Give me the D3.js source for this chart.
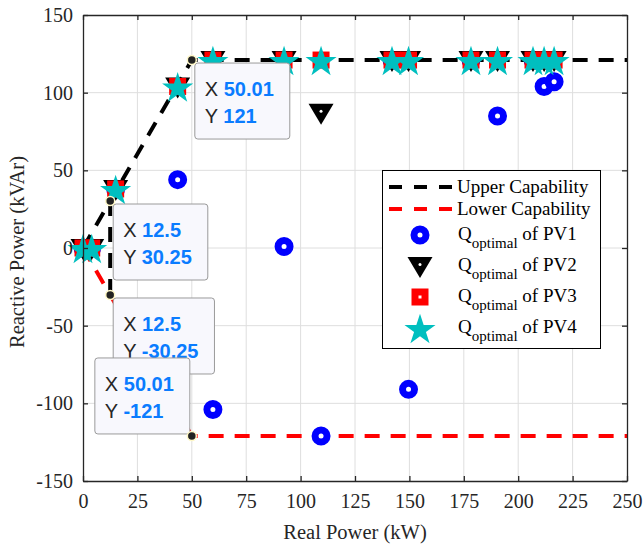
<!DOCTYPE html>
<html>
<head>
<meta charset="utf-8">
<script src="https://cdn.jsdelivr.net/npm/d3@7"></script>
<style>
  body { margin: 0; background: #fff; }
  svg { display: block; }
</style>
</head>
<body>
<div id="wrapper"></div>
<script>
// capability curve
const capP = [0, 12.5, 50.01, 250];
const upperQ = [0, 30.25, 121, 121];
const lowerQ = [0, -30.25, -121, -121];

// optimal reactive power per PV
const pvP = [0, 4, 15, 43.5, 59.7, 92.4, 109.4, 142, 149.6, 178.3, 190.5, 206.8, 211.9, 216.5];
const pv1Q = [0, 0, 38, 44, -104, 1, -121, 121, -91, 121, 85, 121, 104, 107];
const pv2Q = [0, 0, 38, 104, 121, 121, 87, 121, 121, 121, 121, 121, 121, 121];
const pv3Q = [0, 0, 38, 104, 121, 121, 121, 121, 121, 121, 121, 121, 121, 121];
const pv4Q = [0, 0, 38, 104, 121, 121, 121, 121, 121, 121, 121, 121, 121, 121];

const xTicks = [0, 25, 50, 75, 100, 125, 150, 175, 200, 225, 250];
const yTicks = [-150, -100, -50, 0, 50, 100, 150];

// data tips
const tipX = [50.01, 12.5, 12.5, 50.01];
const tipY = [121, 30.25, -30.25, -121];
const tipLabelX = ["50.01", "12.5", "12.5", "50.01"];
const tipLabelY = ["121", "30.25", "-30.25", "-121"];
const tipSide = ["se", "se", "se", "nw"];

const legendLabels = ["Upper Capability", "Lower Capability", "PV1", "PV2", "PV3", "PV4"];

let wSvg = 644;
let hSvg = 546;
let pLeft = 83, pRight = 627, pTop = 15, pBottom = 481;

let svg = d3.select("#wrapper").append("svg")
    .attr("width", wSvg)
    .attr("height", hSvg);

svg.append("rect").attr("width", wSvg).attr("height", hSvg).attr("fill", "#fff");

let xScale = d3.scaleLinear().domain([0, 250]).range([pLeft, pRight]);
let yScale = d3.scaleLinear().domain([-150, 150]).range([pBottom, pTop]);

const serif = "'Liberation Serif', 'Times New Roman', serif";
const sans = "'Liberation Sans', Arial, sans-serif";
const axisColor = "#262626";

// grid
let grid = svg.append("g");
grid.selectAll(".gx").data(xTicks.slice(1, -1)).enter().append("line")
    .attr("x1", d => xScale(d)).attr("x2", d => xScale(d))
    .attr("y1", pTop).attr("y2", pBottom)
    .attr("stroke", "#dedede").attr("stroke-width", 1);
grid.selectAll(".gy").data(yTicks.slice(1, -1)).enter().append("line")
    .attr("y1", d => yScale(d)).attr("y2", d => yScale(d))
    .attr("x1", pLeft).attr("x2", pRight)
    .attr("stroke", "#dedede").attr("stroke-width", 1);

// capability lines
let line = d3.line().x(d => xScale(d[0])).y(d => yScale(d[1]));
let upperPts = capP.map((p, i) => [p, upperQ[i]]);
let lowerPts = capP.map((p, i) => [p, lowerQ[i]]);

svg.append("path").datum(lowerPts).attr("d", line)
    .attr("fill", "none").attr("stroke", "#ff0000").attr("stroke-width", 4)
    .attr("stroke-dasharray", "15 11");
svg.append("path").datum(upperPts).attr("d", line)
    .attr("fill", "none").attr("stroke", "#000").attr("stroke-width", 4)
    .attr("stroke-dasharray", "15 11");
svg.append("path").datum([[capP[1], upperQ[1]], [capP[1], lowerQ[1]]]).attr("d", line)
    .attr("fill", "none").attr("stroke", "#000").attr("stroke-width", 4)
    .attr("stroke-dasharray", "15 11");

// marker drawers
function drawCircle(g, x, y) {
    g.append("circle").attr("cx", x).attr("cy", y).attr("r", 6)
        .attr("fill", "#fff").attr("stroke", "#0000ff").attr("stroke-width", 7);
}
function drawTriangle(g, x, y) {
    g.append("path")
        .attr("d", `M${x - 12.5},${y - 9}L${x + 12.5},${y - 9}L${x},${y + 12}Z`)
        .attr("fill", "#000");
    g.append("circle").attr("cx", x).attr("cy", y - 1.5).attr("r", 1.5).attr("fill", "#fff");
}
function drawSquare(g, x, y) {
    g.append("rect").attr("x", x - 8.5).attr("y", y - 8.5).attr("width", 17).attr("height", 17)
        .attr("fill", "#ff0000");
    g.append("rect").attr("x", x - 1.5).attr("y", y - 1.5).attr("width", 3).attr("height", 3)
        .attr("fill", "#fff");
}
let starPath = d3.symbol().type(d3.symbolStar).size(300)();
function drawStar(g, x, y) {
    g.append("path").attr("d", starPath)
        .attr("transform", `translate(${x},${y + 2})`)
        .attr("fill", "#00bfbf");
}

let series = [
    { q: pv1Q, draw: drawCircle },
    { q: pv2Q, draw: drawTriangle },
    { q: pv3Q, draw: drawSquare },
    { q: pv4Q, draw: drawStar }
];

series.forEach(s => {
    let g = svg.append("g");
    s.q.forEach((q, i) => s.draw(g, xScale(pvP[i]), yScale(q)));
});

// axes (box with inward ticks)
let axes = svg.append("g");
let plain = d => String(d);

let xAxis = axes.append("g").attr("transform", `translate(0,${pBottom})`)
    .call(d3.axisBottom(xScale).tickValues(xTicks).tickFormat(plain).tickSize(-5).tickPadding(13).tickSizeOuter(0));
let yAxis = axes.append("g").attr("transform", `translate(${pLeft},0)`)
    .call(d3.axisLeft(yScale).tickValues(yTicks).tickFormat(plain).tickSize(-5).tickPadding(10).tickSizeOuter(0));
let xTop = axes.append("g").attr("transform", `translate(0,${pTop})`)
    .call(d3.axisTop(xScale).tickValues(xTicks).tickSize(-5).tickFormat("").tickSizeOuter(0));
let yRight = axes.append("g").attr("transform", `translate(${pRight},0)`)
    .call(d3.axisRight(yScale).tickValues(yTicks).tickSize(-5).tickFormat("").tickSizeOuter(0));

[xAxis, yAxis, xTop, yRight].forEach(a => {
    a.attr("font-family", serif).attr("font-size", 20);
    a.select(".domain").attr("stroke", axisColor).attr("stroke-width", 1.3);
    a.selectAll(".tick line").attr("stroke", axisColor).attr("stroke-width", 1.3);
    a.selectAll("text").attr("fill", axisColor);
});

svg.append("text")
    .attr("x", (pLeft + pRight) / 2).attr("y", 539)
    .attr("text-anchor", "middle")
    .attr("font-family", serif).attr("font-size", 20.5).attr("fill", axisColor)
    .text("Real Power (kW)");

svg.append("text")
    .attr("transform", `translate(24,${(pTop + pBottom) / 2 + 4}) rotate(-90)`)
    .attr("text-anchor", "middle")
    .attr("font-family", serif).attr("font-size", 20.5).attr("fill", axisColor)
    .text("Reactive Power (kVAr)");

// legend
let lg = svg.append("g");
lg.append("rect").attr("x", 382.5).attr("y", 170.5).attr("width", 218).attr("height", 178)
    .attr("fill", "#fff").attr("stroke", "#000").attr("stroke-width", 1);
let rowY = [187, 209, 235, 266, 297, 328];
let lineColors = ["#000", "#ff0000"];
[0, 1].forEach(i => {
    lg.append("line").attr("x1", 389).attr("x2", 452).attr("y1", rowY[i]).attr("y2", rowY[i])
        .attr("stroke", lineColors[i]).attr("stroke-width", 4).attr("stroke-dasharray", "13 12");
    lg.append("text").attr("x", 457).attr("y", rowY[i] + 6)
        .attr("font-family", serif).attr("font-size", 19).attr("fill", "#000")
        .text(legendLabels[i]);
});
series.forEach((s, k) => {
    let y = rowY[k + 2];
    s.draw(lg, 420, y);
    let t = lg.append("text").attr("x", 458).attr("y", y + 5)
        .attr("font-family", serif).attr("font-size", 19).attr("fill", "#000");
    t.append("tspan").text("Q");
    t.append("tspan").attr("font-size", 15).attr("dy", 8).text("optimal");
    t.append("tspan").attr("dy", -8).text(" of " + legendLabels[k + 2]);
});

// data tips
tipX.forEach((p, i) => {
    let px = xScale(p), py = yScale(tipY[i]);
    let g = svg.append("g");
    let txt = g.append("g").attr("font-family", sans).attr("font-size", 20);
    let rx = txt.append("text").attr("x", 0).attr("y", 0);
    rx.append("tspan").attr("fill", "#262626").text("X ");
    rx.append("tspan").attr("fill", "#0a7cff").attr("font-weight", "bold").text(tipLabelX[i]);
    let ry = txt.append("text").attr("x", 0).attr("y", 27);
    ry.append("tspan").attr("fill", "#262626").text("Y ");
    ry.append("tspan").attr("fill", "#0a7cff").attr("font-weight", "bold").text(tipLabelY[i]);
    let tw = Math.max(rx.node().getComputedTextLength(), ry.node().getComputedTextLength());
    let bw = tw + 26, bh = 76;
    let bx = tipSide[i] === "se" ? px + 3 : px - 2 - bw;
    let by = tipSide[i] === "se" ? py + 3 : py - 2 - bh;
    g.insert("rect", ":first-child")
        .attr("x", bx).attr("y", by).attr("width", bw).attr("height", bh).attr("rx", 3)
        .attr("fill", "#f8f8fd").attr("stroke", "#9a9a9a").attr("stroke-width", 1);
    txt.attr("transform", `translate(${bx + 10},${by + 33})`);
    g.append("circle").attr("cx", px).attr("cy", py).attr("r", 4.5)
        .attr("fill", "#222").attr("stroke", "#fff8c8").attr("stroke-width", 1.5);
});
</script>
</body>
</html>
